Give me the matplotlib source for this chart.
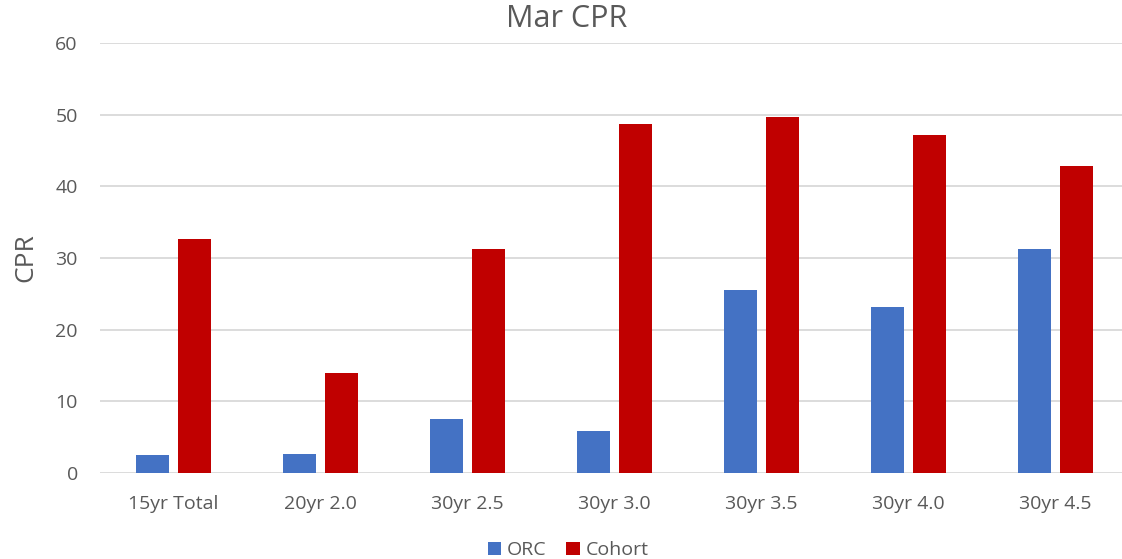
import matplotlib.pyplot as plt
import numpy as np

categories = ["15yr Total", "20yr 2.0", "30yr 2.5", "30yr 3.0", "30yr 3.5", "30yr 4.0", "30yr 4.5"]
orc = [2.5, 2.7, 7.5, 5.9, 25.6, 23.1, 31.3]
cohort = [32.6, 13.9, 31.3, 48.7, 49.7, 47.1, 42.9]

plt.rcParams['font.family'] = ['Open Sans', 'DejaVu Sans']
grey = '#595959'

fig = plt.figure(figsize=(11.22, 5.59), dpi=100)
ax = fig.add_axes([100/1122, 86/559, 1029/1122, 430/559])

x = np.arange(len(categories))
w = 0.224
off = 0.143
ax.bar(x - off, orc, w, color='#4472C4', label='ORC', zorder=3)
ax.bar(x + off, cohort, w, color='#C00000', label='Cohort', zorder=3)

ax.set_xlim(-0.5, len(categories) - 0.5)
ax.set_ylim(0, 60)
ax.set_yticks(range(0, 61, 10))
ax.set_xticks(x)
ax.set_xticklabels(categories)
ax.tick_params(axis='both', length=0, labelsize=14, colors=grey)
ax.tick_params(axis='y', pad=16)
ax.tick_params(axis='x', pad=16)
ax.grid(axis='y', color='#d9d9d9', linewidth=1.3, zorder=0)
for s in ax.spines.values():
    s.set_visible(False)

ax.set_ylabel("CPR", fontsize=19, color=grey, labelpad=12)
fig.suptitle("Mar CPR", fontsize=22, color=grey, x=567/1122, y=1 - 4/559)

ax.legend(loc='lower center', bbox_to_anchor=(0.455, -0.232), ncol=2, frameon=False,
          fontsize=14, labelcolor=grey, handlelength=0.7, handleheight=0.7,
          handletextpad=0.3, columnspacing=1.0, borderpad=0.2)

fig.savefig("out.png", dpi=100)
